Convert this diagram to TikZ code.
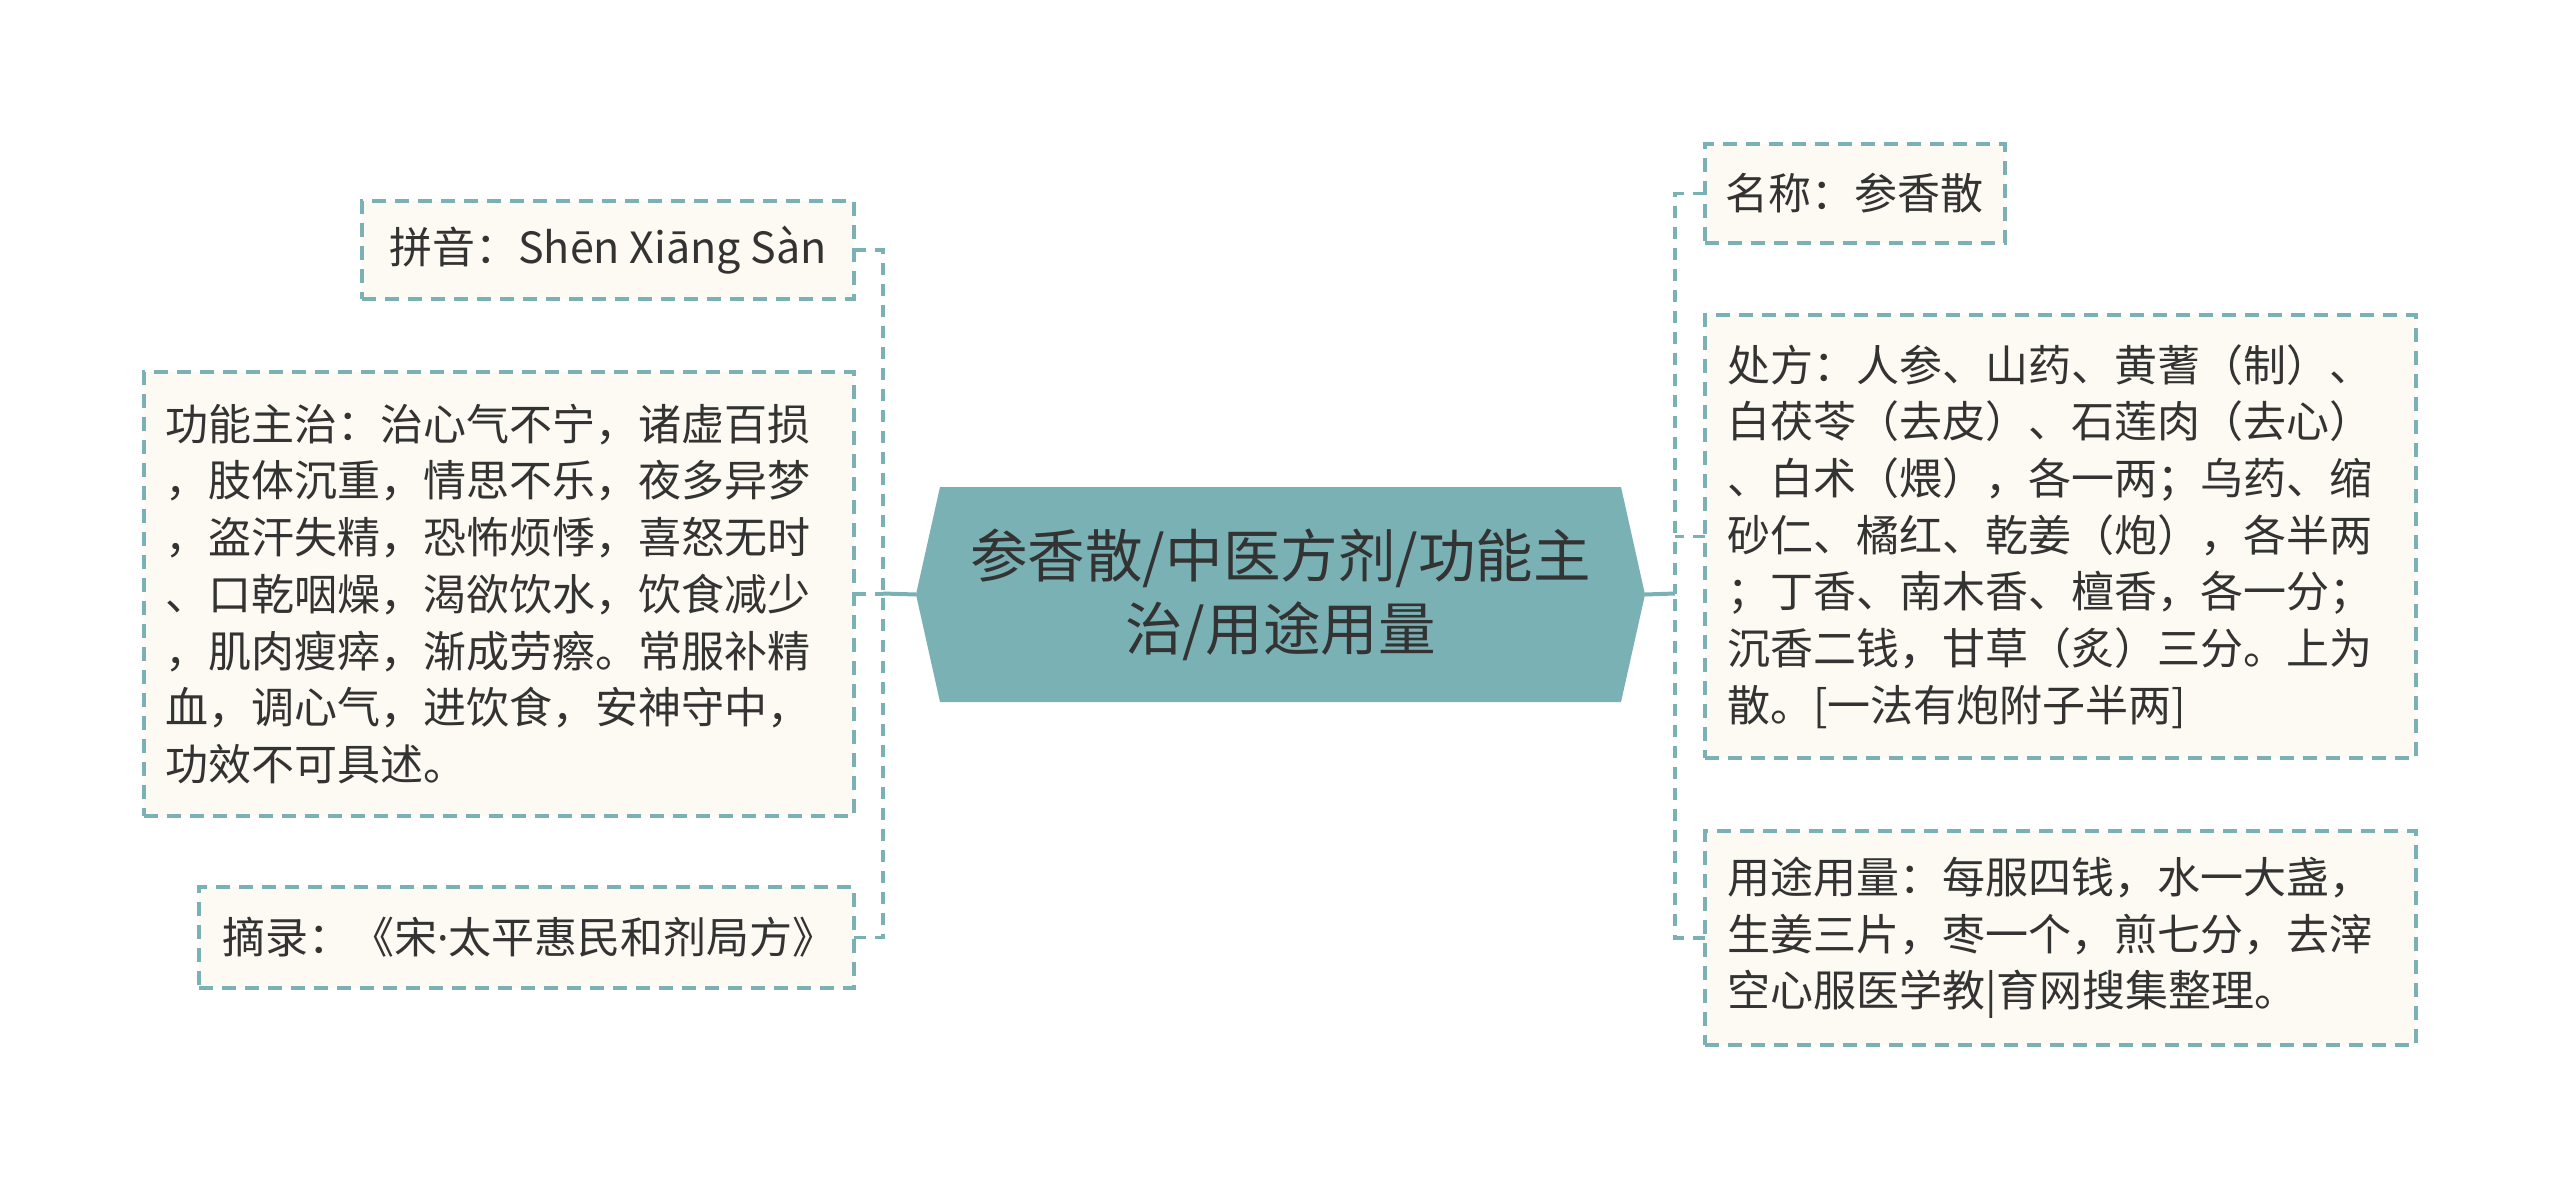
\documentclass[tikz,border=0pt]{standalone}
\usepackage{fontspec}
\setmainfont{Noto Sans CJK SC}
\newfontfamily\latinfont{Noto Sans}
\usetikzlibrary{backgrounds}
\definecolor{tealc}{HTML}{7AB1B4}
\definecolor{creamc}{HTML}{FCFAF2}
\definecolor{txtc}{HTML}{333333}
\begin{document}
\begin{tikzpicture}[x=1pt,y=-1pt,
  leaf/.style={draw=tealc, line width=3.5pt, dash pattern=on 14pt off 9pt,
    fill=creamc, text=txtc, font=\fontsize{43}{56.7}\selectfont,
    align=left, anchor=north west, inner ysep=0pt, outer sep=0pt},
  dline/.style={draw=tealc, line width=3.5pt, dash pattern=on 12pt off 9pt},
  sline/.style={draw=tealc, line width=4pt},
  hub/.style={text=txtc, font=\fontsize{57.5}{73}\selectfont, align=center,
    minimum width=729pt, minimum height=215pt, inner sep=0pt, outer sep=0pt}]
\useasboundingbox (0,0) rectangle (2560,1189);

% central node
\node[hub] (c) at (1280.5,594.5) {参香散/中医方剂/功能主\\治/用途用量};
\begin{pgfonlayer}{background}
\fill[white] (0,0) rectangle (2560,1189);
\fill[tealc] (c.west) -- ([xshift=24pt]c.north west) -- ([xshift=-24pt]c.north east)
  -- (c.east) -- ([xshift=-24pt]c.south east) -- ([xshift=24pt]c.south west) -- cycle;
\end{pgfonlayer}

% left leaves
\node[leaf, inner xsep=23pt, minimum width=492pt, minimum height=98pt] (pinyin) at (362,201)
  {拼音：Shēn Xiāng Sàn};
\node[leaf, inner xsep=21pt, text width=668pt, minimum height=444pt] (func) at (144,372)
  {功能主治：治心气不宁，诸虚百损\\，肢体沉重，情思不乐，夜多异梦\\，盗汗失精，恐怖烦悸，喜怒无时\\、口乾咽燥，渴欲饮水，饮食减少\\，肌肉瘦瘁，渐成劳瘵。常服补精\\血，调心气，进饮食，安神守中，\\功效不可具述。};
\node[leaf, inner xsep=23pt, text width=609pt, minimum height=101pt] (excerpt) at (199,887)
  {摘录：《宋{\latinfont ·}太平惠民和剂局方》};

% right leaves
\node[leaf, inner xsep=20pt, text width=260pt, minimum height=99pt] (name) at (1705,144)
  {名称：参香散};
\node[leaf, inner xsep=22pt, text width=667pt, minimum height=443pt] (presc) at (1705,315)
  {处方：人参、山药、黄蓍（制）、\\白茯苓（去皮）、石莲肉（去心）\\、白术（煨），各一两；乌药、缩\\砂仁、橘红、乾姜（炮），各半两\\；丁香、南木香、檀香，各一分；\\沉香二钱，甘草（炙）三分。上为\\散。[一法有炮附子半两]};
\node[leaf, inner xsep=22pt, text width=667pt, minimum height=214pt] (usage) at (1705,831)
  {用途用量：每服四钱，水一大盏，\\生姜三片，枣一个，煎七分，去滓\\空心服医学教|育网搜集整理。};

% junctions
\coordinate (jl) at (883,593.5);
\coordinate (jr) at (1675,593.5);

% connectors
\draw[sline] (c.west) -- (jl);
\draw[sline] (c.east) -- (jr);
\draw[dline] (pinyin.east) -| (jl);
\draw[dline] (func.east) -- (func.east -| jl);
\draw[dline] (excerpt.east) -| (jl);
\draw[dline] (name.west) -| (jr);
\draw[dline] (presc.west) -- (presc.west -| jr);
\draw[dline] (usage.west) -| (jr);
\end{tikzpicture}
\end{document}
